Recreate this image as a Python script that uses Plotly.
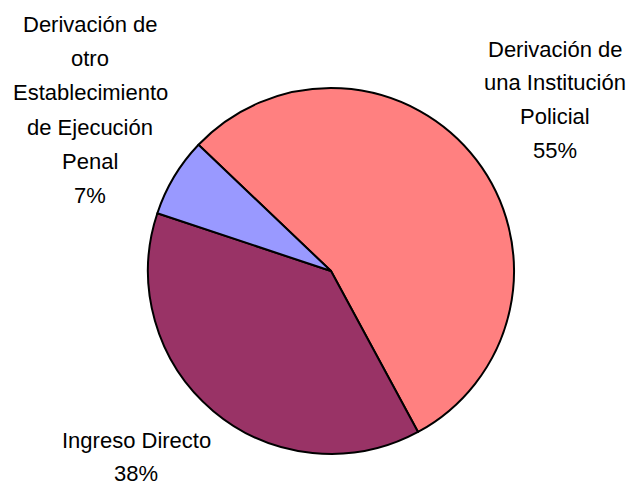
import plotly.graph_objects as go

# data
labels = ["Derivación de\nuna Institución\nPolicial",
          "Ingreso Directo",
          "Derivación de\notro\nEstablecimiento\nde Ejecución\nPenal"]
values = [55, 38, 7]
colors = ["#FF8080", "#993366", "#9999FF"]

W, H = 635, 487
CX, CY, R = 331, 271, 183
FONT = dict(family="Liberation Sans, Arial, sans-serif", size=22, color="#000000")

# label placement in pixels: (x centre, first line centre, line step)
LBL_POS = [(555, 49.3, 33.6), (136, 440, 33), (90, 24.3, 34.3)]

fig = go.Figure(go.Pie(
    labels=[l.replace("\n", " ") for l in labels], values=values, sort=False,
    direction="clockwise", rotation=-46.4,
    marker=dict(colors=colors, line=dict(color="#000000", width=2)),
    textinfo="none", hoverinfo="label+percent", showlegend=False,
    domain=dict(x=[(CX - R) / W, (CX + R) / W], y=[1 - (CY + R) / H, 1 - (CY - R) / H]),
))

total = sum(values)
for lab, val, (px, py, step) in zip(labels, values, LBL_POS):
    lines = lab.split("\n") + [f"{round(100 * val / total)}%"]
    for i, ln in enumerate(lines):
        fig.add_annotation(text=ln, x=px / W, y=1 - (py + i * step) / H,
                           xref="paper", yref="paper", xanchor="center", yanchor="middle",
                           showarrow=False, font=FONT, align="center")

fig.update_layout(width=W, height=H, margin=dict(l=0, r=0, t=0, b=0),
                  paper_bgcolor="white", plot_bgcolor="white", font=FONT)

fig.write_html("out.html", config={"displayModeBar": False},
               post_script="document.body.style.margin='0';")
